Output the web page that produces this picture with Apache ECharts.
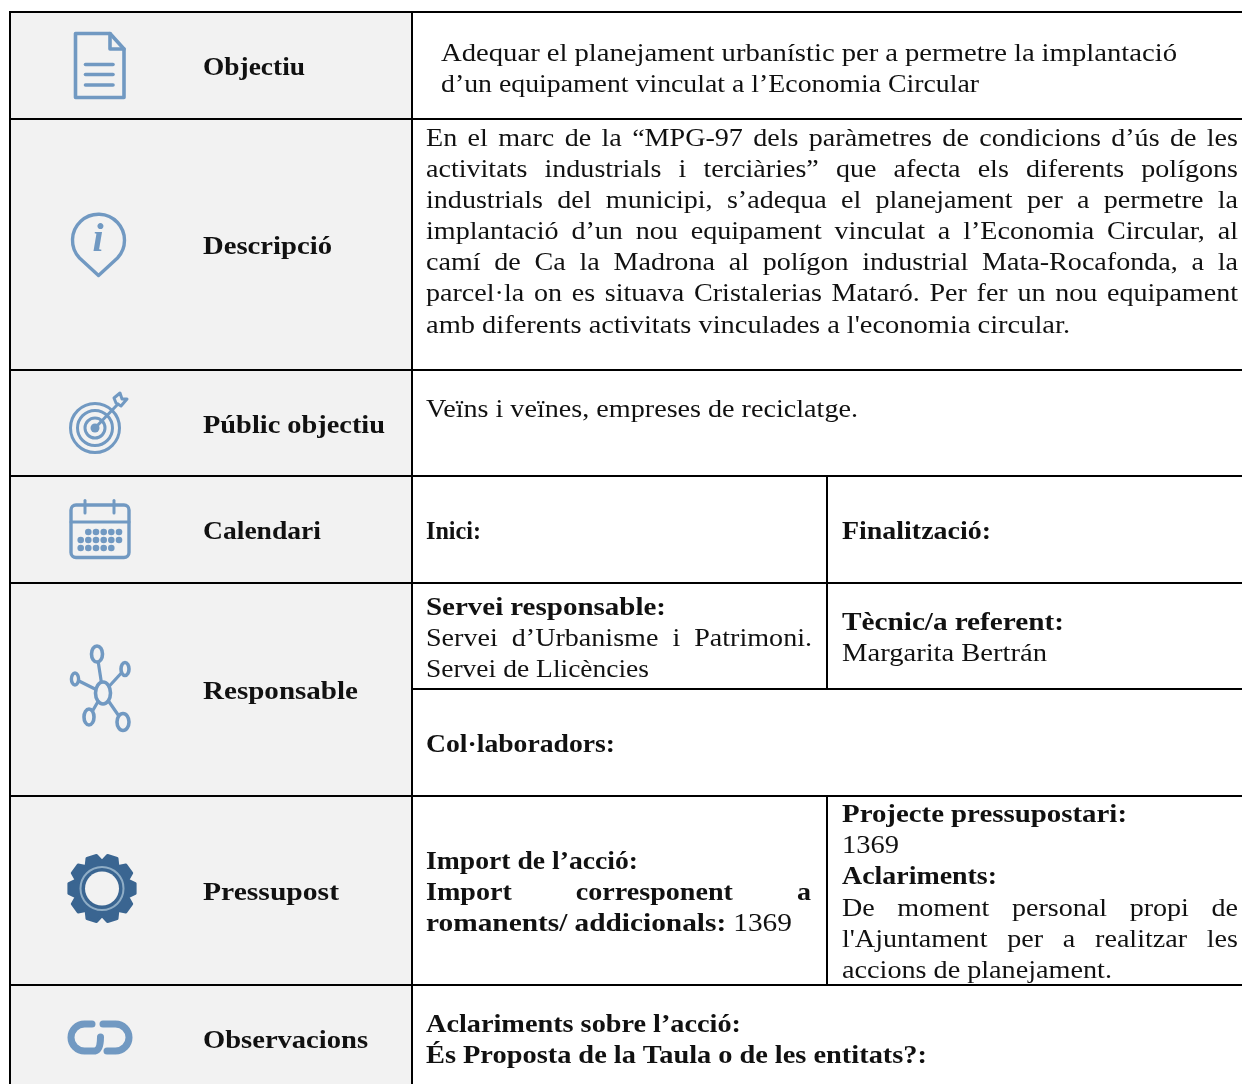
<!DOCTYPE html>
<html>
<head>
<meta charset="utf-8">
<style>
html, body { margin: 0; padding: 0; background: #fff; }
#fitxa { width: 1242px; height: 1084px; }
</style>
<script src="https://cdn.jsdelivr.net/npm/echarts@6/dist/echarts.min.js"></script>
</head>
<body>
<div id="fitxa"></div>
<script>
// textos de la fitxa. "*" al davant vol dir negreta
var rowLabels = ["Objectiu", "Descripció", "Públic objectiu", "Calendari", "Responsable", "Pressupost", "Observacions"];
var objectiuLines = [
  "Adequar el planejament urbanístic per a permetre la implantació",
  "d’un equipament vinculat a l’Economia Circular"
];
var descripcioLines = [
  "En el marc de la “MPG-97 dels paràmetres de condicions d’ús de les",
  "activitats industrials i terciàries” que afecta els diferents polígons",
  "industrials del municipi, s’adequa el planejament per a permetre la",
  "implantació d’un nou equipament vinculat a l’Economia Circular, al",
  "camí de Ca la Madrona al polígon industrial Mata-Rocafonda, a la",
  "parcel·la on es situava Cristalerias Mataró. Per fer un nou equipament",
  "amb diferents activitats vinculades a l'economia circular."
];
var publicLines = ["Veïns i veïnes, empreses de reciclatge."];
var iniciLines = ["*Inici:"];
var finalLines = ["*Finalització:"];
var serveiLines = ["*Servei responsable:", "Servei d’Urbanisme i Patrimoni.", "Servei de Llicències"];
var tecnicLines = ["*Tècnic/a referent:", "Margarita Bertrán"];
var collabLines = ["*Col·laboradors:"];
var importLines = ["*Import de l’acció:", "*Import corresponent a", "*romanents/ addicionals: 1369"];
var projecteLines = [
  "*Projecte pressupostari:",
  "1369",
  "*Aclariments:",
  "De moment personal propi de",
  "l'Ajuntament per a realitzar les",
  "accions de planejament."
];
var observLines = ["*Aclariments sobre l’acció:", "*És Proposta de la Taula o de les entitats?:"];

// posicio de cada bloc: x, centres de linia, final de linia, linies justificades
var blocks = [
  { lines: objectiuLines, x: 441, y: [52, 83], end: [1177, 979], just: [] },
  { lines: descripcioLines, x: 426, y: [137, 168, 199, 230, 261, 292, 324], end: [1238, 1238, 1238, 1238, 1238, 1238, 1070], just: [0, 1, 2, 3, 4, 5] },
  { lines: publicLines, x: 426, y: [408], end: [858], just: [] },
  { lines: iniciLines, x: 426, y: [530], end: [481], just: [] },
  { lines: finalLines, x: 842, y: [530], end: [991], just: [] },
  { lines: serveiLines, x: 426, y: [606, 637, 668], end: [666, 812, 649], just: [1] },
  { lines: tecnicLines, x: 842, y: [621, 652], end: [1064, 1047], just: [] },
  { lines: collabLines, x: 426, y: [743], end: [615], just: [] },
  { lines: importLines, x: 426, y: [860, 891, 922], end: [638, 811, 792], just: [1] },
  { lines: projecteLines, x: 842, y: [813, 844, 875, 907, 938, 969], end: [1127, 899, 997, 1238, 1238, 1112], just: [3, 4] },
  { lines: observLines, x: 426, y: [1023, 1054], end: [741, 927], just: [] }
];
var labelY = [66, 245, 424, 530, 690, 891, 1039];
var labelEnd = [305, 332, 385, 321, 358, 339, 368];

var FONT = '"Liberation Serif"';
var SIZE = 26;
var BASE_SCALE = 1.08;
var NAT_GAP = 7;
var TEXT_DY = 2;
var BLUE = "#7199c2";
var GREY = "#f2f2f2";

var chart = echarts.init(document.getElementById("fitxa"));
var ctx = document.createElement("canvas").getContext("2d");
var els = [];
var shapeCount = 0;

function fontOf(bold) {
  return (bold ? "bold " : "") + SIZE + "px " + FONT;
}
function natWidth(w) {
  ctx.font = fontOf(w.bold);
  return ctx.measureText(w.text).width;
}
function parseWords(str) {
  var bold = str.charAt(0) === "*";
  var out = (bold ? str.slice(1) : str).split(" ").map(function (p) {
    return { text: p, bold: bold };
  });
  // el 1369 del final va en rodona
  if (bold && out[out.length - 1].text === "1369") out[out.length - 1].bold = false;
  return out;
}
// cada paraula al seu lloc, ajustant l'amplada fins al final de linia
function drawLine(str, x, y, end, justified) {
  var words = parseWords(str);
  var total = 0;
  words.forEach(function (w) { total += natWidth(w); });
  var scale = BASE_SCALE;
  var gap;
  if (justified) {
    gap = (end - x - total * scale) / (words.length - 1);
  } else {
    gap = NAT_GAP;
    scale = (end - x - gap * (words.length - 1)) / total;
  }
  var cur = x;
  words.forEach(function (w) {
    els.push({
      type: "text", x: cur, y: y + TEXT_DY, scaleX: scale, silent: true, z: 5,
      style: { text: w.text, font: fontOf(w.bold), fill: "#111", verticalAlign: "middle", align: "left" }
    });
    cur += natWidth(w) * scale + gap;
  });
}
function hLine(x1, x2, y) {
  els.push({ type: "line", silent: true, z: 4, shape: { x1: x1, y1: y, x2: x2, y2: y }, style: { stroke: "#000", lineWidth: 2 } });
}
function vLine(x, y1, y2) {
  els.push({ type: "line", silent: true, z: 4, shape: { x1: x, y1: y1, x2: x, y2: y2 }, style: { stroke: "#000", lineWidth: 2 } });
}
// el component graphic no te tipus "path": es registra una forma per a cada traç
function pathEl(pathData, style, z) {
  var name = "fitxaPath" + (shapeCount++);
  echarts.graphic.registerShape(name, echarts.graphic.extendPath(pathData, {}));
  els.push({ type: name, silent: true, z: z || 3, style: style });
}
function stroke(pathData, w) {
  pathEl(pathData, { fill: null, stroke: BLUE, lineWidth: w || 3.6, lineJoin: "round", lineCap: "round" });
}
function ring(cx, cy, r, w, color) {
  els.push({ type: "circle", silent: true, z: 3, shape: { cx: cx, cy: cy, r: r }, style: { fill: null, stroke: color || BLUE, lineWidth: w } });
}
function dot(cx, cy, r, color, z) {
  els.push({ type: "circle", silent: true, z: z || 3, shape: { cx: cx, cy: cy, r: r }, style: { fill: color || BLUE } });
}
function oval(cx, cy, rx, ry, w) {
  els.push({ type: "ellipse", silent: true, z: 3, shape: { cx: cx, cy: cy, rx: rx, ry: ry }, style: { fill: GREY, stroke: BLUE, lineWidth: w } });
}

// fons de la columna esquerra
els.push({ type: "rect", silent: true, z: 1, shape: { x: 10, y: 12, width: 402, height: 1072 }, style: { fill: GREY } });

// graella
[12, 119, 370, 476, 583, 796, 985].forEach(function (y) { hLine(10, 1242, y); });
hLine(412, 1242, 689);
vLine(10, 11, 1084);
vLine(412, 11, 1084);
vLine(827, 476, 689);
vLine(827, 796, 985);

// etiquetes i textos
rowLabels.forEach(function (t, i) {
  drawLine("*" + t, 203, labelY[i], labelEnd[i], false);
});
blocks.forEach(function (b) {
  b.lines.forEach(function (l, i) {
    drawLine(l, b.x, b.y[i], b.end[i], b.just.indexOf(i) >= 0);
  });
});

// icona document
stroke("M75.5 33.5 L110 33.5 L124 49 L124 97.5 L75.5 97.5 Z");
stroke("M110 33.5 L110 49 L124 49");
stroke("M85.5 64.5 L113 64.5"); stroke("M85.5 74.5 L113 74.5"); stroke("M85.5 85 L113 85");

// icona info
stroke("M79.5 258 A26 26 0 1 1 117.5 258 L98.5 275.5 Z", 3.4);
els.push({ type: "text", x: 98, y: 241, silent: true, z: 3, style: { text: "i", font: 'italic bold 40px "Liberation Serif"', fill: BLUE, align: "center", verticalAlign: "middle" } });

// icona diana
ring(95, 428, 24.5, 3); ring(95, 428, 17.5, 3); ring(95, 428, 10, 3);
dot(95, 428, 4.5);
stroke("M95 428 L118 404", 3);
stroke("M114 398 L120 393 L122 399 L127 399 L121 406 L116 403 Z", 3);

// icona calendari
els.push({ type: "rect", silent: true, z: 3, shape: { x: 71, y: 505, width: 58, height: 52.5, r: 5 }, style: { fill: null, stroke: BLUE, lineWidth: 3.4 } });
stroke("M71 522 L129 522", 3);
stroke("M85 500.5 L85 513", 3); stroke("M114 500.5 L114 513", 3);
[[88.3, 96, 103.7, 111.3, 119], [80.7, 88.3, 96, 103.7, 111.3, 119], [80.7, 88.3, 96, 103.7, 111.3]].forEach(function (xs, r) {
  xs.forEach(function (x) { dot(x, 532 + r * 8, 3.3); });
});

// icona xarxa
stroke("M103 693 L97 654", 3.2); stroke("M103 693 L75 679", 3.2); stroke("M103 693 L125 669", 3.2);
stroke("M103 693 L89 717", 3.2); stroke("M103 693 L123 722", 3.2);
oval(103, 693, 7.5, 11, 3.6);
oval(97, 654, 5.5, 8, 3.6); oval(75, 679, 3.6, 6, 3.4); oval(125, 669, 4, 6.5, 3.6);
oval(89, 717, 5, 8, 3.6); oval(123, 722, 6, 8.5, 3.6);

// icona engranatge
var gearPath = "";
for (var t = 0; t < 10; t++) {
  var a = t * Math.PI / 5;
  [[-0.30, 27.5], [-0.15, 33.5], [0.15, 33.5], [0.30, 27.5]].forEach(function (p, k) {
    var px = 102 + p[1] * Math.cos(a + p[0]);
    var py = 888.5 + p[1] * Math.sin(a + p[0]);
    gearPath += (t === 0 && k === 0 ? "M" : "L") + px.toFixed(1) + " " + py.toFixed(1) + " ";
  });
}
pathEl(gearPath + "Z", { fill: "#3a6591", stroke: "#3a6591", lineWidth: 3, lineJoin: "round" });
ring(102, 888.5, 21.5, 2, "#8fadc6");
dot(102, 888.5, 17, GREY, 4);

// icona enllac
stroke("M92 1024 L84.5 1024 A13.5 13.5 0 0 0 84.5 1051 L95 1051 Q100.5 1050 100.5 1037", 7);
stroke("M107 1051 L115.5 1051 A13.5 13.5 0 0 0 115.5 1024 L103 1024", 7);

chart.setOption({
  animation: false,
  backgroundColor: "#fff",
  graphic: { elements: els }
});
</script>
</body>
</html>
